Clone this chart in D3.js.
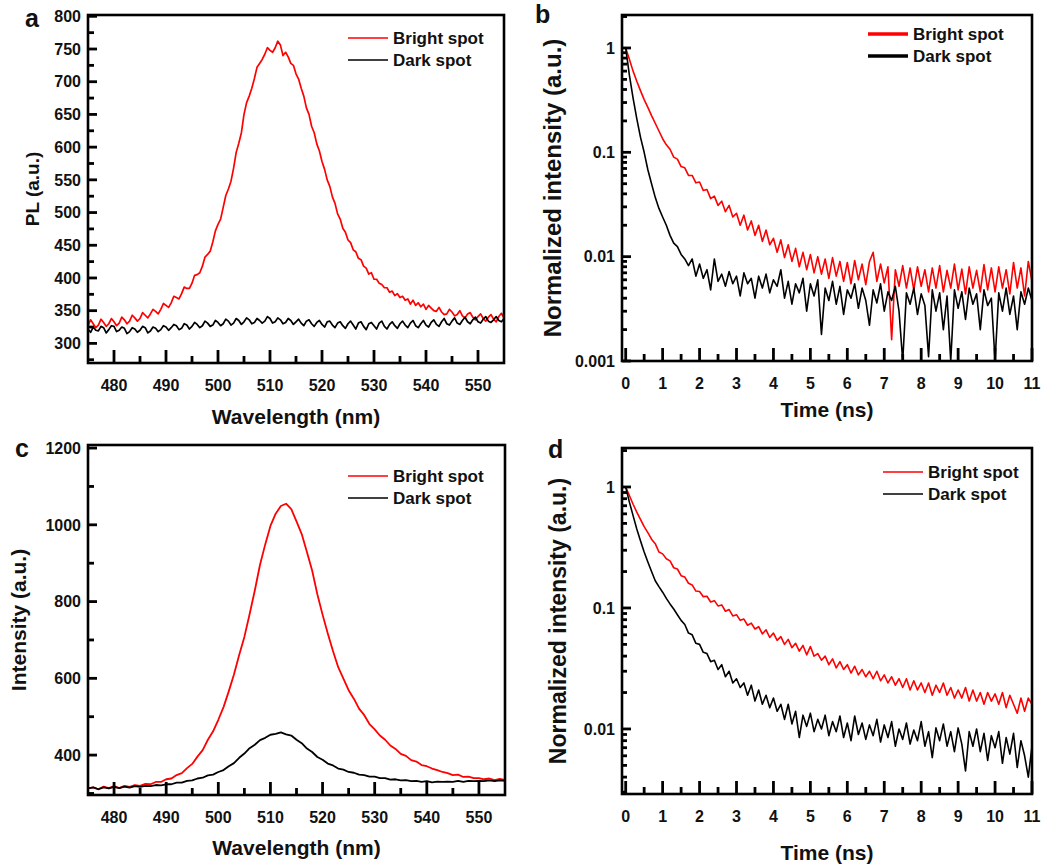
<!DOCTYPE html>
<html>
<head>
<meta charset="utf-8">
<script src="https://d3js.org/d3.v7.min.js"></script>
<style>
  body { margin: 0; background: #fff; }
  svg { font-family: "Liberation Sans", Arial, sans-serif; font-weight: bold; }
  .lbl { font-size: 16px; fill: #111; }
  .series { fill: none; stroke-linejoin: round; }
</style>
</head>
<body>
<script>

// ---- data ----
var wavelengthA = d3.range(0, 161).map(function(i) { return 475 + i / 2; });   // 0.5 nm steps
var wavelengthC = d3.range(475, 556);                                          // 1 nm steps
var time = d3.range(0, 111).map(function(i) { return i / 10; });               // 0.1 ns steps

// a: PL spectra
var plBrightA = [327,336,330,324,328,337,332,326,330,338,333,327,331,340,336,330,334,343,339,334,
  338,347,343,339,345,352,349,345,352,361,358,355,362,372,370,368,376,386,384,384,
  392,404,405,408,418,432,436,441,455,472,482,490,508,526,536,548,568,592,606,622,
  650,668,678,690,705,722,728,734,742,752,748,745,752,762,756,740,745,738,728,725,
  712,704,690,678,660,650,632,622,605,594,578,566,550,540,524,514,498,490,476,470,
  458,454,443,440,430,428,418,415,406,408,398,398,392,390,385,385,378,380,373,376,
  370,372,366,368,360,366,358,362,356,360,352,358,354,350,349,355,348,344,345,352,
  348,342,344,350,342,339,345,347,340,336,341,345,338,334,340,344,337,333,341,346,339];
var plDarkA = [322,317,325,320,319,326,324,316,321,327,326,318,320,325,323,315,318,324,322,317,
  320,326,324,316,319,325,323,318,321,327,325,320,324,329,327,321,323,330,328,322,
  326,332,329,324,327,334,331,326,328,335,332,327,330,337,334,328,331,338,335,329,
  333,339,336,330,332,338,335,331,334,341,338,331,333,339,336,330,332,338,335,329,
  333,337,331,327,334,336,330,326,332,335,329,325,333,334,328,324,331,333,327,323,
  330,334,328,322,331,333,326,321,330,332,327,322,331,334,326,322,329,333,327,323,
  330,334,328,324,331,335,327,324,330,335,328,325,332,336,329,326,333,338,330,328,
  334,339,331,329,335,340,333,330,336,340,333,331,337,341,334,332,336,341,335,333,338];

// c: intensity spectra
var plBrightC = [313,316,311,318,314,319,314,320,317,322,320,325,324,330,330,337,339,348,353,366,
  377,396,413,440,462,492,525,566,610,661,708,767,829,896,949,997,1029,1049,1055,1041,
  1009,976,929,881,819,766,717,671,629,599,569,547,521,504,481,467,451,440,425,416,
  403,398,387,383,374,371,365,361,356,353,348,349,343,344,340,340,337,339,335,338,335];
var plDarkC = [313,316,311,316,313,317,314,318,315,319,317,320,319,322,321,324,324,328,328,333,
  334,339,341,347,349,356,361,371,379,393,404,418,427,439,445,453,455,459,454,451,
  440,431,417,408,395,388,378,373,365,362,356,354,349,348,344,344,340,340,336,337,
  334,335,332,333,330,332,329,331,330,331,330,333,330,333,332,333,332,334,332,334,333];

// b: decay, 0 - 11 ns
var decayBrightB = [1.0,0.78,0.60,0.48,0.39,0.32,0.27,0.225,0.19,0.16,
  0.135,0.118,0.107,0.090,0.086,0.073,0.071,0.060,0.060,0.051,
  0.052,0.043,0.044,0.036,0.038,0.031,0.034,0.027,0.031,0.024,
  0.026,0.020,0.025,0.018,0.022,0.016,0.020,0.014,0.018,0.013,
  0.015,0.011,0.0145,0.0098,0.013,0.0090,0.0120,0.0080,0.0110,0.0075,
  0.0105,0.0070,0.0100,0.0068,0.0095,0.0062,0.0098,0.0065,0.0090,0.0058,
  0.0088,0.0055,0.0092,0.0060,0.0085,0.0054,0.0090,0.0110,0.0058,0.0085,
  0.0056,0.0080,0.0016,0.0075,0.0052,0.0082,0.0050,0.0078,0.0048,0.0080,
  0.0052,0.0075,0.0046,0.0078,0.0050,0.0082,0.0046,0.0074,0.0050,0.0085,
  0.0048,0.0076,0.0044,0.0080,0.0050,0.0074,0.0046,0.0084,0.0048,0.0078,
  0.0046,0.0080,0.0050,0.0075,0.0044,0.0088,0.0050,0.0078,0.0042,0.0090,0.0058];
var decayDarkB = [1.0,0.55,0.33,0.21,0.14,0.10,0.068,0.05,0.037,0.029,
  0.024,0.020,0.016,0.0135,0.0125,0.0105,0.0095,0.0082,0.0095,0.0065,
  0.0085,0.0062,0.0075,0.0048,0.0095,0.0058,0.0068,0.0052,0.0072,0.0055,
  0.0065,0.0042,0.0070,0.0055,0.0062,0.0040,0.0065,0.0050,0.0068,0.0045,
  0.0060,0.0052,0.0075,0.0040,0.0058,0.0035,0.0055,0.0045,0.0062,0.0030,
  0.0055,0.0042,0.0060,0.0018,0.0050,0.0038,0.0058,0.0035,0.0052,0.0028,
  0.0048,0.0040,0.0055,0.0032,0.0050,0.0038,0.0022,0.0048,0.0036,0.0055,
  0.0030,0.0046,0.0038,0.0052,0.0030,0.0010,0.0045,0.0035,0.0050,0.0028,
  0.0044,0.0034,0.0011,0.0048,0.0030,0.0045,0.0020,0.0042,0.0010,0.0048,
  0.0032,0.0046,0.0025,0.0050,0.0035,0.0044,0.0020,0.0048,0.0034,0.0040,
  0.0010,0.0045,0.0030,0.0050,0.0028,0.0042,0.0020,0.0046,0.0035,0.0050,0.0038];

// d: decay, 0 - 11 ns
var decayBrightD = [1.0,0.85,0.72,0.62,0.54,0.47,0.42,0.37,0.34,0.29,
  0.28,0.255,0.245,0.215,0.21,0.185,0.18,0.16,0.155,0.138,
  0.137,0.124,0.125,0.112,0.115,0.104,0.106,0.094,0.097,0.086,
  0.088,0.079,0.081,0.072,0.075,0.067,0.070,0.061,0.066,0.057,
  0.062,0.054,0.058,0.050,0.055,0.047,0.051,0.044,0.049,0.041,
  0.048,0.040,0.042,0.037,0.040,0.034,0.038,0.032,0.036,0.031,
  0.034,0.029,0.033,0.028,0.031,0.027,0.030,0.026,0.030,0.025,
  0.028,0.024,0.027,0.023,0.026,0.022,0.026,0.021,0.025,0.021,
  0.024,0.020,0.024,0.019,0.023,0.020,0.024,0.019,0.022,0.018,
  0.021,0.018,0.022,0.017,0.021,0.017,0.020,0.016,0.020,0.017,
  0.0195,0.016,0.020,0.015,0.019,0.016,0.0135,0.018,0.014,0.018,0.016];
var decayDarkD = [1.0,0.75,0.58,0.45,0.36,0.29,0.24,0.20,0.168,0.150,
  0.135,0.12,0.108,0.098,0.088,0.079,0.073,0.062,0.060,0.051,
  0.050,0.043,0.042,0.036,0.037,0.031,0.034,0.027,0.030,0.024,
  0.026,0.022,0.024,0.019,0.023,0.017,0.021,0.016,0.019,0.015,
  0.018,0.014,0.016,0.012,0.016,0.011,0.014,0.0085,0.013,0.0105,
  0.0135,0.0095,0.012,0.010,0.013,0.0088,0.0115,0.0095,0.0128,0.0085,
  0.0112,0.0080,0.0128,0.0090,0.0112,0.0082,0.0108,0.0088,0.0120,0.0078,
  0.0108,0.0085,0.0115,0.0072,0.0100,0.0082,0.0112,0.0075,0.0098,0.0080,
  0.0115,0.0072,0.0095,0.0058,0.0102,0.0080,0.0110,0.0072,0.0095,0.0065,
  0.0102,0.0075,0.0045,0.0095,0.0072,0.0100,0.0065,0.0092,0.0055,0.0088,
  0.0070,0.0095,0.0052,0.0085,0.0062,0.0092,0.0048,0.0080,0.0060,0.0040,0.0072];

var seriesNames = ["Bright spot", "Dark spot"];
var seriesColors = ["#ff0000", "#000000"];
var nmTicks = [480, 490, 500, 510, 520, 530, 540, 550];
var nmMinor = [485, 495, 505, 515, 525, 535, 545];
var nsTicks = [0, 1, 2, 3, 4, 5, 6, 7, 8, 9, 10, 11];
var nsMinor = [0.5, 1.5, 2.5, 3.5, 4.5, 5.5, 6.5, 7.5, 8.5, 9.5, 10.5];
var decadeTicks = [1, 0.1, 0.01, 0.001];

var svg = d3.select("body").append("svg")
    .attr("width", 1063)
    .attr("height", 868);

var panels = [
  {id: "a", left: 88, right: 504, top: 15, bottom: 363,
   xs: wavelengthA, ys: [plBrightA, plDarkA], xDomain: [475, 555], yDomain: [270, 802], log: false,
   xMajor: nmTicks, xMinor: nmMinor,
   yMajor: [300, 350, 400, 450, 500, 550, 600, 650, 700, 750, 800],
   yMinor: [275, 325, 375, 425, 475, 525, 575, 625, 675, 725, 775],
   xTitle: "Wavelength (nm)", yTitle: "PL (a.u.)", yTitleSize: 19, yTitleX: 39, xTitleY: 424,
   letterX: 25, letterY: 27, legX: 348, legY: 38, legW: 1.6, lineW: 1.7},
  {id: "b", left: 622, right: 1032, top: 15, bottom: 361,
   xs: time, ys: [decayBrightB, decayDarkB], xDomain: [-0.1, 11], yDomain: [0.001, 2.07], log: true,
   xMajor: nsTicks, xMinor: nsMinor, yMajor: decadeTicks,
   xTitle: "Time (ns)", yTitle: "Normalized intensity (a.u.)", yTitleSize: 24, yTitleX: 561, xTitleY: 417,
   letterX: 535, letterY: 23, legX: 868, legY: 34, legW: 3.6, lineW: 1.6},
  {id: "c", left: 88, right: 505, top: 445, bottom: 795,
   xs: wavelengthC, ys: [plBrightC, plDarkC], xDomain: [475, 555], yDomain: [296, 1208], log: false,
   xMajor: nmTicks, xMinor: nmMinor,
   yMajor: [400, 600, 800, 1000, 1200], yMinor: [300, 500, 700, 900, 1100],
   xTitle: "Wavelength (nm)", yTitle: "Intensity (a.u.)", yTitleSize: 21, yTitleX: 26, xTitleY: 855,
   letterX: 15, letterY: 457, legX: 348, legY: 476, legW: 1.6, lineW: 1.8},
  {id: "d", left: 622, right: 1032, top: 448, bottom: 794,
   xs: time, ys: [decayBrightD, decayDarkD], xDomain: [-0.1, 11], yDomain: [0.0029, 2.1], log: true,
   xMajor: nsTicks, xMinor: nsMinor, yMajor: [1, 0.1, 0.01],
   xTitle: "Time (ns)", yTitle: "Normalized intensity (a.u.)", yTitleSize: 23, yTitleX: 566, xTitleY: 860,
   letterX: 548, letterY: 458, legX: 883, legY: 472, legW: 1.6, lineW: 1.6}
];

panels.forEach(drawPanel);
// inward tick marks go on top of the curves
var tickLayer = svg.append("g").attr("class", "ticklayer");
panels.forEach(drawTicks);

function logMinors(domain) {
  var out = [];
  for (var e = -4; e <= 1; e++) {
    for (var m = 2; m <= 9; m++) {
      var v = m * Math.pow(10, e);
      if (v > domain[0] && v < domain[1]) out.push(v);
    }
  }
  return out;
}

function drawTicks(p) {
  var x = p.xScale, y = p.yScale;
  var yMinor = p.log ? logMinors(p.yDomain) : p.yMinor;
  var specs = [
    {vals: p.xMajor, horiz: true, len: 13},
    {vals: p.xMinor, horiz: true, len: 7},
    {vals: p.yMajor, horiz: false, len: 9},
    {vals: yMinor, horiz: false, len: p.log ? 5 : 6}
  ];
  specs.forEach(function(s) {
    tickLayer.append("g").selectAll("line")
      .data(s.vals)
      .enter().append("line")
        .attr("x1", function(d) { return s.horiz ? x(d) : p.left; })
        .attr("x2", function(d) { return s.horiz ? x(d) : p.left + s.len; })
        .attr("y1", function(d) { return s.horiz ? p.bottom : y(d); })
        .attr("y2", function(d) { return s.horiz ? p.bottom - s.len : y(d); })
        .attr("stroke", "#000")
        .attr("stroke-width", 2.8);
  });
}

function drawPanel(p) {
  var g = svg.append("g");
  var x = d3.scaleLinear().domain(p.xDomain).range([p.left, p.right]);
  var y = (p.log ? d3.scaleLog() : d3.scaleLinear()).domain(p.yDomain).range([p.bottom, p.top]);
  p.xScale = x;
  p.yScale = y;

  g.append("clipPath").attr("id", "clip-" + p.id)
    .append("rect")
      .attr("x", p.left).attr("y", p.top)
      .attr("width", p.right - p.left).attr("height", p.bottom - p.top);

  var line = d3.line()
      .x(function(d, i) { return x(p.xs[i]); })
      .y(function(d) { return y(d); });

  g.append("g").attr("clip-path", "url(#clip-" + p.id + ")")
    .selectAll("path")
    .data(p.ys)
    .enter().append("path")
      .attr("class", "series")
      .attr("d", line)
      .attr("stroke", function(d, i) { return seriesColors[i]; })
      .attr("stroke-width", p.lineW);

  // tick labels
  g.append("g").selectAll("text")
    .data(p.xMajor)
    .enter().append("text")
      .attr("class", "lbl")
      .attr("x", function(d) { return x(d); })
      .attr("y", p.bottom + 28)
      .attr("text-anchor", "middle")
      .text(function(d) { return d; });
  g.append("g").selectAll("text")
    .data(p.yMajor)
    .enter().append("text")
      .attr("class", "lbl")
      .attr("x", p.left - 7)
      .attr("y", function(d) { return y(d); })
      .attr("dy", "0.36em")
      .attr("text-anchor", "end")
      .text(function(d) { return String(d); });

  g.append("rect")
      .attr("x", p.left).attr("y", p.top)
      .attr("width", p.right - p.left).attr("height", p.bottom - p.top)
      .attr("fill", "none").attr("stroke", "#000").attr("stroke-width", 2.6);

  // titles
  g.append("text")
      .attr("x", (p.left + p.right) / 2).attr("y", p.xTitleY)
      .attr("text-anchor", "middle").attr("font-size", 21).attr("fill", "#111")
      .text(p.xTitle);
  g.append("text")
      .attr("transform", "translate(" + p.yTitleX + "," + (p.top + p.bottom) / 2 + ") rotate(-90)")
      .attr("text-anchor", "middle").attr("font-size", p.yTitleSize).attr("fill", "#111")
      .text(p.yTitle);
  g.append("text")
      .attr("x", p.letterX).attr("y", p.letterY)
      .attr("font-size", 25).attr("fill", "#111")
      .text(p.id);

  // legend
  var leg = g.selectAll(".legend")
      .data(seriesNames)
      .enter().append("g")
      .attr("class", "legend")
      .attr("transform", function(d, i) { return "translate(" + p.legX + "," + (p.legY + i * 22) + ")"; });
  leg.append("line")
      .attr("x1", 0).attr("x2", 40)
      .attr("stroke", function(d, i) { return seriesColors[i]; })
      .attr("stroke-width", p.legW);
  leg.append("text")
      .attr("x", 45).attr("dy", "0.36em")
      .attr("font-size", 17).attr("fill", "#111")
      .text(function(d) { return d; });
}

</script>
</body>
</html>
